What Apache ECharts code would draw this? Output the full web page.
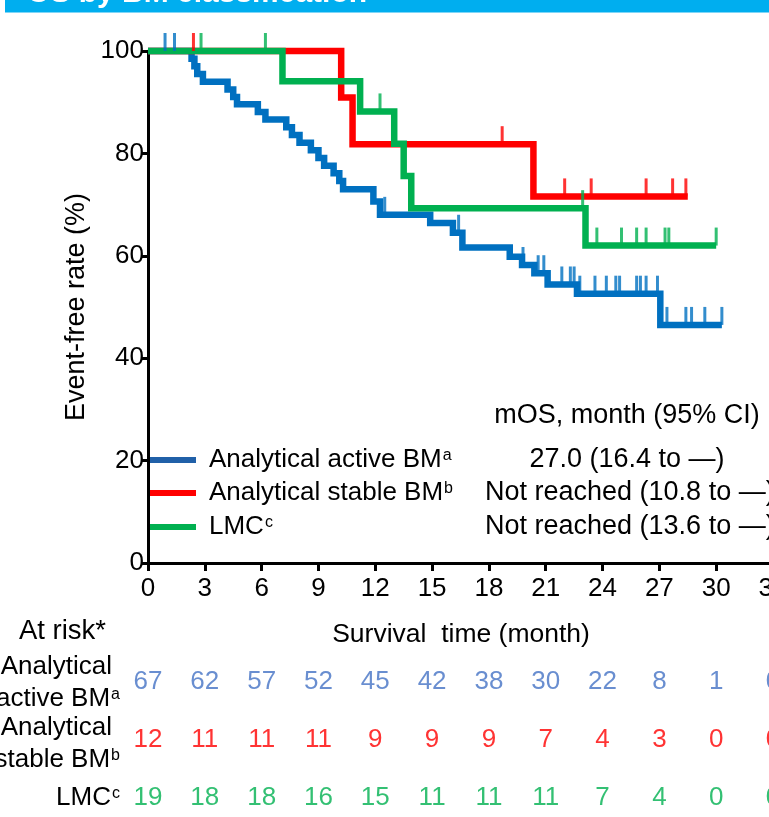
<!DOCTYPE html>
<html>
<head>
<meta charset="utf-8">
<script src="https://cdn.jsdelivr.net/npm/echarts@6/dist/echarts.min.js"></script>
<style>
  html, body { margin: 0; padding: 0; background: #fff; }
  #chart { width: 769px; height: 817px; }
</style>
</head>
<body>
<div id="chart"></div>
<script>
// ---- data ----
var xTicks = [0, 3, 6, 9, 12, 15, 18, 21, 24, 27, 30, 33];
var yTicks = [0, 20, 40, 60, 80, 100];

// KM steps [month, event-free %]
var activeSteps = [
  [0, 100], [2.3, 98.5], [2.45, 97.0], [2.6, 95.5], [2.9, 94.0], [4.2, 92.5],
  [4.5, 91.0], [4.7, 89.6], [5.8, 88.1], [6.2, 86.6], [7.3, 85.1], [7.6, 83.6],
  [8.0, 82.1], [8.6, 80.6], [9.0, 79.1], [9.3, 77.6], [9.8, 76.1], [10.1, 74.6],
  [10.3, 73.0], [11.9, 70.6], [12.25, 68.0], [14.9, 66.4], [16.1, 64.5],
  [16.6, 61.6], [19.1, 59.8], [19.75, 58.2], [20.4, 56.6], [21.1, 54.4],
  [22.65, 52.6], [27.05, 46.5], [30.3, 46.5]
];
var stableSteps = [[0, 100], [10.2, 90.9], [10.8, 81.8], [20.35, 71.6], [28.5, 71.6]];
var lmcSteps = [
  [0, 100], [7.1, 94.1], [11.2, 88.2], [13.0, 81.9], [13.5, 75.6],
  [13.9, 69.3], [23.1, 62.0], [30.0, 62.0]
];

// censored marks [month, %]
var activeCensor = [
  [0.9, 100], [1.4, 100], [12.5, 68.0], [16.4, 64.5], [19.8, 58.2], [20.6, 56.6],
  [20.9, 56.6], [21.85, 54.4], [22.3, 54.4], [22.5, 54.4], [22.8, 52.6],
  [23.6, 52.6], [24.2, 52.6], [24.7, 52.6], [24.9, 52.6], [25.8, 52.6],
  [26.0, 52.6], [26.3, 52.6], [26.9, 52.6], [27.4, 46.5], [28.4, 46.5],
  [28.7, 46.5], [29.4, 46.5], [30.3, 46.5]
];
var stableCensor = [[2.4, 100], [18.7, 81.8], [22.0, 71.6], [23.4, 71.6], [26.3, 71.6], [27.7, 71.6], [28.4, 71.6]];
var lmcCensor = [
  [2.8, 100], [6.2, 100], [12.25, 88.2], [22.95, 69.3], [23.7, 62.0], [25.0, 62.0],
  [25.8, 62.0], [26.3, 62.0], [27.3, 62.0], [27.5, 62.0], [30.0, 62.0]
];

// numbers at risk
var atRiskMonths = [0, 3, 6, 9, 12, 15, 18, 21, 24, 27, 30, 33];
var atRiskActive = [67, 62, 57, 52, 45, 42, 38, 30, 22, 8, 1, 0];
var atRiskStable = [12, 11, 11, 11, 9, 9, 9, 7, 4, 3, 0, 0];
var atRiskLmc = [19, 18, 18, 16, 15, 11, 11, 11, 7, 4, 0, 0];

var mosValues = ['27.0 (16.4 to \u2014)', 'Not reached (10.8 to \u2014)', 'Not reached (13.6 to \u2014)'];

var BLUE = '#0070C0', RED = '#FF0000', GREEN = '#00B050', NUM_BLUE = '#4472C4';
var FONT = 'Liberation Sans, Arial, sans-serif';

var chart = echarts.init(document.getElementById('chart'), null, { renderer: 'canvas' });

function kmLine(name, steps, color) {
  return {
    name: name, type: 'line', step: 'end', data: steps,
    xAxisIndex: 0, yAxisIndex: 0, symbol: 'none', clip: false,
    lineStyle: { color: color, width: 6.5, cap: 'butt', join: 'miter' },
    animation: false
  };
}
function censorMarks(steps, color) {
  return {
    type: 'scatter', data: steps, xAxisIndex: 0, yAxisIndex: 0, clip: false,
    symbol: 'rect', symbolSize: [3, 18], symbolOffset: [0, '-50%'],
    itemStyle: { color: color }, animation: false, z: 3
  };
}
function riskRow(values, row, color) {
  var data = [];
  for (var i = 0; i < atRiskMonths.length; i++) {
    data.push([atRiskMonths[i], row, values[i]]);
  }
  return {
    type: 'scatter', data: data, xAxisIndex: 1, yAxisIndex: 1, symbolSize: 0,
    label: {
      show: true, position: 'inside', color: color, fontSize: 26, fontFamily: FONT,
      formatter: function (p) { return String(p.data[2]); }
    },
    animation: false, silent: true
  };
}

var supRich = {
  sup: { fontSize: 16, fontFamily: FONT, verticalAlign: 'top', color: '#000', padding: [1, 0, 0, 1] }
};

function txt(x, y, text, opts) {
  opts = opts || {};
  return {
    type: 'text', x: x, y: y, silent: true,
    style: {
      text: text, fill: opts.fill || '#000', font: (opts.weight || 'normal') + ' ' + (opts.size || 26) + 'px ' + FONT,
      align: opts.align || 'left', verticalAlign: opts.valign || 'middle',
      rich: opts.rich, lineHeight: opts.lineHeight
    }
  };
}

var option = {
  backgroundColor: '#fff',
  animation: false,
  textStyle: { fontFamily: FONT },
  grid: [
    { left: 148, top: 51, width: 625, height: 512, outerBoundsMode: 'none', containLabel: false },
    { left: 148, top: 682, width: 625, height: 116, outerBoundsMode: 'none', containLabel: false }
  ],
  xAxis: [{
    type: 'value', gridIndex: 0, min: 0, max: 33, interval: 3,
    axisLine: { lineStyle: { color: '#000', width: 3 } },
    axisTick: { length: 8, lineStyle: { color: '#000', width: 3 } },
    axisLabel: { fontSize: 26, color: '#000', margin: 13, fontFamily: FONT, showMaxLabel: true },
    splitLine: { show: false }
  }, {
    type: 'value', gridIndex: 1, min: 0, max: 33, show: false
  }],
  yAxis: [{
    type: 'value', gridIndex: 0, min: 0, max: 100, interval: 20,
    name: 'Event-free rate (%)', nameLocation: 'middle', nameGap: 49, nameRotate: 90,
    nameTextStyle: { fontSize: 27, color: '#000', fontFamily: FONT },
    axisLine: { show: true, lineStyle: { color: '#000', width: 3 } },
    axisTick: { show: true, length: 6, lineStyle: { color: '#000', width: 3 } },
    axisLabel: { fontSize: 26, color: '#000', margin: 4, fontFamily: FONT },
    splitLine: { show: false }
  }, {
    type: 'value', gridIndex: 1, min: 0, max: 2, inverse: true, show: false
  }],
  series: [
    kmLine('Analytical active BM', activeSteps, BLUE),
    kmLine('Analytical stable BM', stableSteps, RED),
    kmLine('LMC', lmcSteps, GREEN),
    censorMarks(activeCensor, BLUE),
    censorMarks(stableCensor, RED),
    censorMarks(lmcCensor, GREEN),
    riskRow(atRiskActive, 0, NUM_BLUE),
    riskRow(atRiskStable, 1, RED),
    riskRow(atRiskLmc, 2, GREEN)
  ],
  graphic: [
    // title band, cut at the top edge
    { type: 'rect', shape: { x: 5, y: 0, width: 764, height: 12.5 }, style: { fill: '#00AEEF' }, silent: true },
    txt(27, -6, 'OS by BM classification', { fill: '#fff', size: 30, weight: 'bold' }),

    // legend swatches + labels
    { type: 'line', shape: { x1: 150, y1: 460, x2: 196, y2: 460 }, style: { stroke: '#2060A8', lineWidth: 6 }, silent: true },
    { type: 'line', shape: { x1: 150, y1: 493, x2: 196, y2: 493 }, style: { stroke: RED, lineWidth: 6 }, silent: true },
    { type: 'line', shape: { x1: 150, y1: 527, x2: 196, y2: 527 }, style: { stroke: GREEN, lineWidth: 6 }, silent: true },
    txt(209, 460, 'Analytical active BM{sup|a}', { rich: supRich }),
    txt(209, 493, 'Analytical stable BM{sup|b}', { rich: supRich }),
    txt(209, 527, 'LMC{sup|c}', { rich: supRich }),

    txt(627, 416, 'mOS, month (95% CI)', { align: 'center', size: 27 }),
    txt(627, 460, mosValues[0], { align: 'center', size: 27 }),
    txt(485, 493, mosValues[1], { size: 27 }),
    txt(485, 527, mosValues[2], { size: 27 }),

    // axis title and at-risk labels
    txt(461, 635, 'Survival  time (month)', { align: 'center', size: 26.5 }),
    txt(106, 631, 'At risk*', { align: 'right', size: 27.5 }),
    txt(112, 667, 'Analytical', { align: 'right' }),
    txt(120, 699, 'active BM{sup|a}', { align: 'right', rich: supRich }),
    txt(112, 728, 'Analytical', { align: 'right' }),
    txt(120, 760, 'stable BM{sup|b}', { align: 'right', rich: supRich }),
    txt(120, 798, 'LMC{sup|c}', { align: 'right', rich: supRich })
  ]
};

chart.setOption(option);
</script>
</body>
</html>
